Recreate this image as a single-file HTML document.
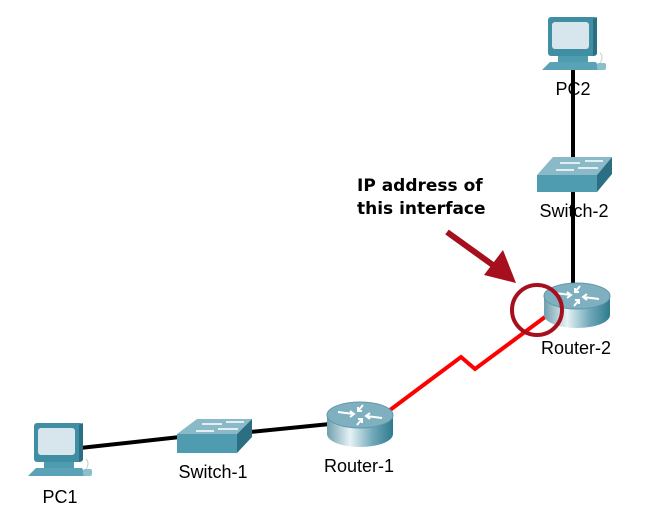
<!DOCTYPE html>
<html><head><meta charset="utf-8"><style>
html,body{margin:0;padding:0;background:#fff;}
svg{display:block;}
.lbl{font-family:"Liberation Sans",Arial,sans-serif;font-size:18px;fill:#000;}
.ann{font-family:"DejaVu Sans",Verdana,sans-serif;font-weight:bold;font-size:17px;fill:#000;}
</style></head><body>
<svg width="656" height="530" viewBox="0 0 656 530" xmlns="http://www.w3.org/2000/svg">
<defs>
<linearGradient id="cyl" x1="0" x2="1" y1="0" y2="0">
<stop offset="0" stop-color="#6f9fae"/><stop offset="0.35" stop-color="#e6f2f5"/><stop offset="0.7" stop-color="#6ea7b8"/><stop offset="1" stop-color="#2f7a8f"/>
</linearGradient>
<g id="router">
<path d="M-33,0 L-33,19 A33,13 0 0 0 33,19 L33,0 Z" fill="url(#cyl)"/>
<ellipse cx="0" cy="0" rx="33" ry="13" fill="#7fb0c0" stroke="#5f98aa" stroke-width="1"/>
<g stroke="#fff" stroke-width="2" fill="none">
<path d="M-22,-3 L-6,-1 M-10,-4 L-6,-1 L-10,2"/>
<path d="M22,3 L6,1 M10,4 L6,1 L10,-2"/>
<path d="M3,-10 L-2,-4 M-2,-8 L-2,-4 L2,-4"/>
<path d="M-3,10 L2,4 M2,8 L2,4 L-2,4"/>
</g>
</g>
<g id="pc">
<rect x="0" y="0" width="49" height="39" rx="3" fill="#3f8ea4"/>
<path d="M45,2 L49,0 L49,37 L45,39 Z" fill="#2c6f82"/>
<rect x="4" y="5" width="37" height="27" rx="3" fill="#d6e6ec"/>
<rect x="10" y="39" width="30" height="6" fill="#4e9cb0"/>
<path d="M2,45 L48,45 L52,53 L-6,53 Z" fill="#5aa3b6"/>
<rect x="49" y="46" width="9" height="7" rx="2" fill="#8cbfcc"/>
<path d="M52,46 Q56,40 52,36" stroke="#ccc" fill="none" stroke-width="1"/>
</g>
</defs>

<line x1="573" y1="68" x2="573" y2="290" stroke="#000" stroke-width="4"/>
<line x1="80" y1="448" x2="180" y2="437" stroke="#000" stroke-width="4"/>
<line x1="250" y1="432" x2="330" y2="424" stroke="#000" stroke-width="4"/>
<polyline points="390,410 461,357 475,369 545,317" fill="none" stroke="#f00" stroke-width="4"/>

<use href="#pc" x="548" y="17"/>
<text class="lbl" x="573" y="95" text-anchor="middle">PC2</text>

<path d="M553,157 L612,157 L597,175 L537,175 Z" fill="#8ab9c7"/>
<rect x="537" y="175" width="60" height="17" fill="#4f9bb0"/>
<path d="M597,175 L612,157 L612,174 L597,192 Z" fill="#2c6f82"/>
<g stroke="#fff" stroke-width="1.5"><line x1="560" y1="163" x2="580" y2="163"/><line x1="578" y1="168" x2="598" y2="168"/><line x1="556" y1="170" x2="574" y2="170"/><line x1="585" y1="161" x2="603" y2="161"/></g>
<text class="lbl" x="574" y="217" text-anchor="middle">Switch-2</text>

<use href="#router" x="577" y="296"/>
<text class="lbl" x="576" y="354" text-anchor="middle">Router-2</text>

<path d="M197,419 L252,419 L237,434 L177,434 Z" fill="#8ab9c7"/>
<rect x="177" y="434" width="60" height="19" fill="#4f9bb0"/>
<path d="M237,434 L252,419 L252,437 L237,453 Z" fill="#2c6f82"/>
<g stroke="#fff" stroke-width="1.5"><line x1="202" y1="424" x2="222" y2="424"/><line x1="218" y1="429" x2="238" y2="429"/><line x1="196" y1="431" x2="214" y2="431"/><line x1="226" y1="422" x2="244" y2="422"/></g>
<text class="lbl" x="213" y="478" text-anchor="middle">Switch-1</text>

<use href="#router" x="360" y="415"/>
<text class="lbl" x="359" y="472" text-anchor="middle">Router-1</text>

<use href="#pc" x="34" y="423"/>
<text class="lbl" x="60" y="503" text-anchor="middle">PC1</text>

<text class="ann" x="357" y="191">IP address of</text>
<text class="ann" x="357" y="214">this interface</text>
<line x1="447" y1="232" x2="497" y2="268" stroke="#a50f1e" stroke-width="6"/>
<polygon points="516,283 484,275 503,250" fill="#a50f1e"/>
<circle cx="537" cy="310" r="25" fill="none" stroke="#a50f1e" stroke-width="4"/>
</svg>
</body></html>
